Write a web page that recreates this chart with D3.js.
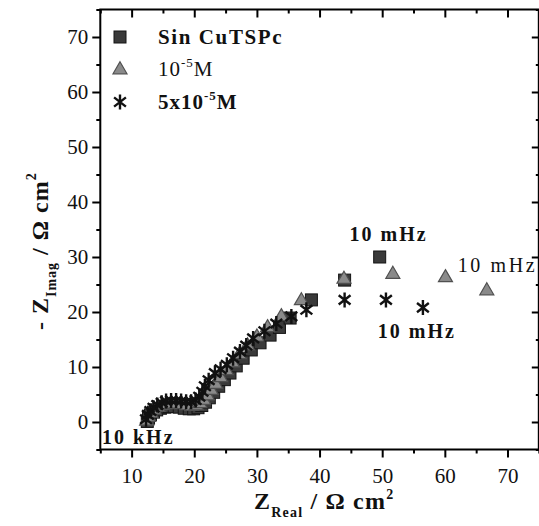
<!DOCTYPE html>
<html><head><meta charset="utf-8">
<script src="https://cdn.jsdelivr.net/npm/d3@7/dist/d3.min.js"></script>
<style>body{margin:0;background:#fff} svg{display:block}</style>
</head><body>
<script>
// ---- data ----
const xDomain = [5, 75];
const yDomain = [-5, 75];
const xMajor = [10, 20, 30, 40, 50, 60, 70];
const xMinor = [5, 15, 25, 35, 45, 55, 65, 75];
const yMajor = [0, 10, 20, 30, 40, 50, 60, 70];
const yMinor = [-5, 5, 15, 25, 35, 45, 55, 65, 75];

const seriesNames = ["Sin CuTSPc", "10-5M", "5x10-5M"];

const sinReal = [12.5,12.7,13.0,13.5,14.0,14.6,15.3,16.0,16.8,17.6,18.4,19.2,19.9,20.6,21.2,21.8,22.4,23.1,23.9,24.8,25.7,26.7,27.8,29.1,30.5,32.1,33.6,35.3,38.7,44.0,49.6];
const sinImag = [0.1,0.7,1.3,1.8,2.2,2.5,2.7,2.8,2.8,2.7,2.5,2.4,2.4,2.6,3.0,3.6,4.4,5.4,6.5,7.7,8.9,10.2,11.6,13.1,14.4,15.8,17.2,18.9,22.2,25.8,30.0];

const triReal = [12.4,12.7,13.1,13.6,14.2,14.9,15.6,16.4,17.2,18.0,18.8,19.6,20.3,20.9,21.5,22.1,22.7,23.4,24.2,25.1,26.1,27.2,28.5,30.0,31.7,33.9,37.1,43.9,51.7,60.1,66.7];
const triImag = [0.3,1.0,1.7,2.3,2.8,3.1,3.3,3.4,3.4,3.3,3.1,3.0,3.1,3.5,4.1,4.9,5.9,7.0,8.2,9.5,10.9,12.4,14.0,15.6,17.3,19.3,22.2,26.1,27.0,26.4,24.0];

const starReal = [12.3,12.6,13.0,13.5,14.1,14.8,15.5,16.3,17.1,17.9,18.7,19.5,20.2,20.8,21.3,21.7,22.3,23.3,24.2,25.2,26.2,27.3,28.3,29.4,31.2,33.1,35.5,37.9,44.0,50.6,56.5];
const starImag = [0.5,1.3,2.0,2.6,3.1,3.5,3.8,3.9,3.9,3.8,3.7,3.7,4.0,4.6,5.5,6.5,7.6,8.9,9.6,10.4,11.6,12.8,13.9,15.2,16.5,17.9,19.2,20.4,22.2,22.2,20.8];

const annotText = ["10 mHz", "10 mHz", "10 mHz", "10 kHz"];
const annotX = [44.8, 62.05, 49.3, 5.27];
const annotY = [32.9, 27.3, 15.3, -4.0];
const annotBold = [true, false, true, true];

// ---- drawing ----
const W = 539, H = 526;
const svg = d3.select("body").append("svg").attr("width", W).attr("height", H)
  .style("font-family", "'Liberation Serif', 'DejaVu Serif', serif");

const x = d3.scaleLinear().domain(xDomain).range([100.3, 538.8]);
const y = d3.scaleLinear().domain(yDomain).range([449.5, 9.5]);

function styleAxis(g) {
  g.select(".domain").remove();
  g.selectAll(".tick line").attr("stroke", "#000").attr("stroke-width", 2);
  g.selectAll(".tick text").attr("fill", "#111").style("font-size", "21px")
    .style("font-family", "'Liberation Serif', serif");
}

// bottom
svg.append("g").attr("transform", `translate(0,${y(yDomain[0])})`)
  .call(d3.axisBottom(x).tickValues(xMajor).tickSize(8).tickPadding(11).tickFormat(d3.format("d")))
  .call(styleAxis);
svg.append("g").attr("transform", `translate(0,${y(yDomain[0])})`)
  .call(d3.axisBottom(x).tickValues(xMinor).tickSize(4).tickFormat(""))
  .call(styleAxis);
// left
svg.append("g").attr("transform", `translate(${x(xDomain[0])},0)`)
  .call(d3.axisLeft(y).tickValues(yMajor).tickSize(8).tickPadding(4).tickFormat(d3.format("d")))
  .call(styleAxis);
svg.append("g").attr("transform", `translate(${x(xDomain[0])},0)`)
  .call(d3.axisLeft(y).tickValues(yMinor).tickSize(4).tickFormat(""))
  .call(styleAxis);
// top (inward)
svg.append("g").attr("transform", `translate(0,${y(yDomain[1])})`)
  .call(d3.axisBottom(x).tickValues(xMajor).tickSize(8).tickFormat(""))
  .call(styleAxis);
svg.append("g").attr("transform", `translate(0,${y(yDomain[1])})`)
  .call(d3.axisBottom(x).tickValues(xMinor).tickSize(4).tickFormat(""))
  .call(styleAxis);
// right (inward)
svg.append("g").attr("transform", `translate(${x(xDomain[1])},0)`)
  .call(d3.axisLeft(y).tickValues(yMajor).tickSize(7).tickFormat(""))
  .call(styleAxis);
svg.append("g").attr("transform", `translate(${x(xDomain[1])},0)`)
  .call(d3.axisLeft(y).tickValues(yMinor).tickSize(3).tickFormat(""))
  .call(styleAxis);

// frame
svg.append("rect")
  .attr("x", x(xDomain[0])).attr("y", y(yDomain[1]))
  .attr("width", x(xDomain[1]) - x(xDomain[0]))
  .attr("height", y(yDomain[0]) - y(yDomain[1]))
  .attr("fill", "none").attr("stroke", "#000").attr("stroke-width", 2);

// markers
const sq = 12;
function drawSquare(g, cx, cy) {
  g.append("rect").attr("x", cx - sq/2).attr("y", cy - sq/2).attr("width", sq).attr("height", sq)
    .attr("fill", "#3a3a3a").attr("stroke", "#141414").attr("stroke-width", 1);
}
function drawTriangle(g, cx, cy) {
  const w = 14, h = 12;
  g.append("path")
    .attr("d", `M${cx},${cy - h*0.6}L${cx + w/2},${cy + h*0.4}L${cx - w/2},${cy + h*0.4}Z`)
    .attr("fill", "#8a8a8a").attr("stroke", "#505050").attr("stroke-width", 1.2);
}
function drawStar(g, cx, cy) {
  const r = 7.5, a = 38 * Math.PI / 180;
  const dx = r * Math.cos(a), dy = r * Math.sin(a);
  g.append("path")
    .attr("d", `M${cx},${cy - r}L${cx},${cy + r}M${cx - dx},${cy - dy}L${cx + dx},${cy + dy}M${cx - dx},${cy + dy}L${cx + dx},${cy - dy}`)
    .attr("stroke", "#111").attr("stroke-width", 2.4).attr("fill", "none");
}

const plot = svg.append("g");
const gS = plot.append("g"), gT = plot.append("g"), gA = plot.append("g");
sinReal.forEach((v, i) => drawSquare(gS, x(v), y(sinImag[i])));
triReal.forEach((v, i) => drawTriangle(gT, x(v), y(triImag[i])));
starReal.forEach((v, i) => drawStar(gA, x(v), y(starImag[i])));

// legend
const lg = svg.append("g");
drawSquare(lg, 120, 37);
drawTriangle(lg, 120, 69);
drawStar(lg, 120, 102);
lg.append("text").attr("x", 158).attr("y", 44).attr("font-size", 21).attr("font-weight", "bold")
  .attr("letter-spacing", 1.6).attr("fill", "#111").text(seriesNames[0]);
const t2 = lg.append("text").attr("x", 158).attr("y", 76).attr("font-size", 21).attr("letter-spacing", 1).attr("fill", "#111");
t2.append("tspan").text("10");
t2.append("tspan").attr("font-size", 13).attr("dy", -9).text("-5");
t2.append("tspan").attr("dy", 9).text("M");
const t3 = lg.append("text").attr("x", 158).attr("y", 109).attr("font-size", 21).attr("font-weight", "bold").attr("letter-spacing", 1).attr("fill", "#111");
t3.append("tspan").text("5x10");
t3.append("tspan").attr("font-size", 13).attr("dy", -9).text("-5");
t3.append("tspan").attr("dy", 9).text("M");

// annotations
annotText.forEach((t, i) => {
  svg.append("text").attr("x", x(annotX[i])).attr("y", y(annotY[i]))
    .attr("font-size", 20).attr("font-weight", annotBold[i] ? "bold" : "normal")
    .attr("letter-spacing", annotBold[i] ? 2 : 2.6).attr("fill", "#111").text(t);
});

// x title
const xt = svg.append("text").attr("x", 254).attr("y", 509).attr("font-size", 24)
  .attr("font-weight", "bold").attr("letter-spacing", 1.2).attr("fill", "#111");
xt.append("tspan").text("Z");
xt.append("tspan").attr("font-size", 14).attr("dy", 8).text("Real");
xt.append("tspan").attr("dy", -8).text(" / \u03A9 cm");
xt.append("tspan").attr("font-size", 14).attr("dy", -10).text("2");

// y title
const yt = svg.append("text").attr("transform", "translate(48,330) rotate(-90)")
  .attr("font-size", 24).attr("font-weight", "bold").attr("letter-spacing", 1).attr("fill", "#111");
yt.append("tspan").text("- Z");
yt.append("tspan").attr("font-size", 14).attr("dy", 8).text("Imag");
yt.append("tspan").attr("dy", -8).text(" / \u03A9 cm");
yt.append("tspan").attr("font-size", 14).attr("dy", -12).text("2");
</script>
</body></html>
